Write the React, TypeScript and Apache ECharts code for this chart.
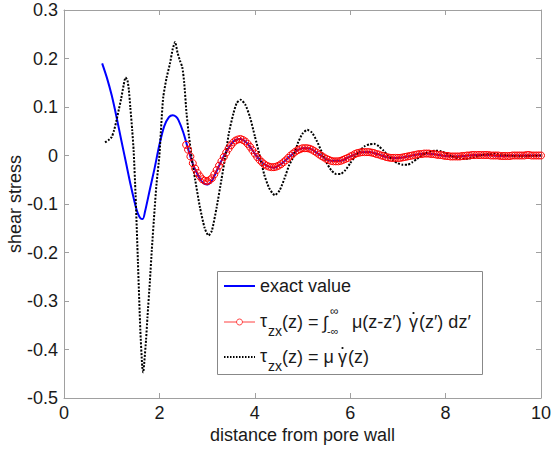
import React, { useEffect, useRef } from "react";
import * as echarts from "echarts";

// x positions and values of the exact solution (blue)
const exactZ = [0.8, 0.9, 1.0, 1.1, 1.2, 1.3, 1.4, 1.5, 1.55, 1.6, 1.65, 1.7, 1.8, 1.9, 2.0, 2.1, 2.2, 2.28, 2.35, 2.4, 2.5, 2.6, 2.7, 2.8, 2.9, 3.0, 3.1, 3.2, 3.3, 3.4, 3.5, 3.6, 3.7, 3.8, 3.9, 4.0, 4.1, 4.2, 4.3, 4.4, 4.5, 4.6, 4.7, 4.8, 4.9, 5.0, 5.1, 5.2, 5.4, 5.6, 5.8, 6.0, 6.2, 6.4, 6.6, 6.8, 7.0, 7.2, 7.4, 7.6, 7.8, 8.0, 8.2, 8.4, 8.6, 8.8, 9.0, 9.2, 9.4, 9.6, 9.8, 10.0];
const exactTau = [0.19, 0.16, 0.124, 0.08, 0.032, -0.015, -0.062, -0.104, -0.12, -0.129, -0.131, -0.115, -0.07, -0.026, 0.022, 0.06, 0.079, 0.083, 0.08, 0.073, 0.048, 0.014, -0.017, -0.039, -0.055, -0.06, -0.052, -0.032, -0.011, 0.007, 0.023, 0.032, 0.034, 0.029, 0.018, 0.004, -0.009, -0.018, -0.023, -0.025, -0.021, -0.014, -0.005, 0.004, 0.011, 0.015, 0.015, 0.012, -0.001, -0.011, -0.011, -0.002, 0.006, 0.007, 0.002, -0.004, -0.005, -0.002, 0.002, 0.004, 0.002, -0.001, -0.002, -0.001, 0.001, 0.001, 0.0, -0.001, 0.0, 0.0, 0.0, 0.0];

// convolution form (red circles)
const convZ = [2.56, 2.6, 2.65, 2.7, 2.75, 2.8, 2.85, 2.9, 2.95, 3.0, 3.05, 3.1, 3.15, 3.2, 3.25, 3.3, 3.35, 3.4, 3.45, 3.5, 3.55, 3.6, 3.65, 3.7, 3.75, 3.8, 3.85, 3.9, 3.95, 4.0, 4.05, 4.1, 4.15, 4.2, 4.25, 4.3, 4.35, 4.4, 4.45, 4.5, 4.55, 4.6, 4.65, 4.7, 4.75, 4.8, 4.85, 4.9, 4.95, 5.0, 5.05, 5.1, 5.15, 5.2, 5.25, 5.3, 5.35, 5.4, 5.45, 5.5, 5.55, 5.6, 5.65, 5.7, 5.75, 5.8, 5.85, 5.9, 5.95, 6.0, 6.05, 6.1, 6.15, 6.2, 6.25, 6.3, 6.35, 6.4, 6.45, 6.5, 6.55, 6.6, 6.65, 6.7, 6.75, 6.8, 6.85, 6.9, 6.95, 7.0, 7.05, 7.1, 7.15, 7.2, 7.25, 7.3, 7.35, 7.4, 7.45, 7.5, 7.55, 7.6, 7.65, 7.7, 7.75, 7.8, 7.85, 7.9, 7.95, 8.0, 8.05, 8.1, 8.15, 8.2, 8.25, 8.3, 8.35, 8.4, 8.45, 8.5, 8.55, 8.6, 8.65, 8.7, 8.75, 8.8, 8.85, 8.9, 8.95, 9.0, 9.05, 9.1, 9.15, 9.2, 9.25, 9.3, 9.35, 9.4, 9.45, 9.5, 9.55, 9.6, 9.65, 9.7, 9.75, 9.8, 9.85, 9.9, 9.95, 10.0];
const convTau = [0.022, 0.012, -0.002, -0.016, -0.027, -0.036, -0.043, -0.049, -0.052, -0.053, -0.051, -0.047, -0.039, -0.03, -0.021, -0.012, -0.003, 0.006, 0.014, 0.021, 0.027, 0.031, 0.033, 0.034, 0.032, 0.029, 0.024, 0.018, 0.011, 0.004, -0.003, -0.009, -0.014, -0.018, -0.021, -0.023, -0.024, -0.024, -0.023, -0.021, -0.018, -0.014, -0.01, -0.005, 0.0, 0.004, 0.008, 0.011, 0.013, 0.015, 0.015, 0.015, 0.014, 0.012, 0.009, 0.006, 0.002, -0.001, -0.004, -0.007, -0.009, -0.011, -0.012, -0.012, -0.012, -0.011, -0.009, -0.007, -0.005, -0.002, 0.0, 0.003, 0.005, 0.006, 0.007, 0.007, 0.007, 0.007, 0.006, 0.005, 0.003, 0.002, 0.0, -0.001, -0.003, -0.004, -0.005, -0.005, -0.005, -0.005, -0.005, -0.004, -0.003, -0.002, -0.001, 0.0, 0.001, 0.002, 0.003, 0.003, 0.004, 0.004, 0.004, 0.003, 0.003, 0.002, 0.001, 0.001, 0.0, -0.001, -0.001, -0.002, -0.002, -0.002, -0.002, -0.002, -0.001, -0.001, 0.0, 0.0, 0.001, 0.001, 0.001, 0.001, 0.001, 0.001, 0.001, 0.001, 0.0, 0.0, 0.0, 0.0, -0.001, -0.001, -0.001, -0.001, -0.001, 0.0, 0.0, 0.0, 0.0, 0.0, 0.0, 0.001, 0.001, 0.0, 0.0, 0.0, 0.0, 0.0];

// local form (black dotted)
const localZ = [0.86, 0.95, 1.0, 1.05, 1.1, 1.15, 1.2, 1.25, 1.29, 1.33, 1.36, 1.39, 1.43, 1.46, 1.5, 1.55, 1.6, 1.64, 1.66, 1.68, 1.72, 1.75, 1.8, 1.84, 1.9, 1.94, 2.0, 2.04, 2.08, 2.15, 2.22, 2.28, 2.33, 2.38, 2.43, 2.48, 2.52, 2.57, 2.62, 2.68, 2.75, 2.85, 2.95, 3.03, 3.1, 3.2, 3.3, 3.38, 3.46, 3.55, 3.62, 3.7, 3.8, 3.9, 4.0, 4.11, 4.2, 4.3, 4.42, 4.52, 4.62, 4.72, 4.81, 4.9, 5.0, 5.1, 5.2, 5.3, 5.4, 5.5, 5.6, 5.7, 5.8, 5.9, 6.0, 6.1, 6.2, 6.3, 6.4, 6.5, 6.6, 6.7, 6.8, 6.9, 7.0, 7.1, 7.2, 7.3, 7.4, 7.5, 7.6, 7.7, 7.8, 7.9, 8.0, 8.1, 8.2, 8.3, 8.4, 8.5, 8.6, 8.7, 8.8, 8.9, 9.0, 9.1, 9.2, 9.4, 9.6, 9.8, 10.0];
const localTau = [0.027, 0.033, 0.038, 0.052, 0.072, 0.095, 0.118, 0.145, 0.161, 0.155, 0.135, 0.1, 0.052, 0.01, -0.08, -0.22, -0.36, -0.435, -0.447, -0.43, -0.38, -0.333, -0.26, -0.196, -0.11, -0.058, 0.0, 0.065, 0.12, 0.16, 0.189, 0.22, 0.234, 0.212, 0.196, 0.182, 0.15, 0.086, 0.04, -0.007, -0.05, -0.107, -0.15, -0.165, -0.155, -0.107, -0.05, -0.003, 0.048, 0.086, 0.108, 0.115, 0.105, 0.079, 0.04, -0.003, -0.04, -0.067, -0.082, -0.072, -0.048, -0.02, -0.003, 0.025, 0.045, 0.053, 0.047, 0.03, 0.008, -0.014, -0.03, -0.038, -0.038, -0.03, -0.016, -0.002, 0.01, 0.019, 0.023, 0.024, 0.019, 0.01, -0.001, -0.01, -0.016, -0.019, -0.019, -0.014, -0.007, 0.0, 0.006, 0.009, 0.01, 0.009, 0.005, 0.0, -0.004, -0.006, -0.007, -0.006, -0.004, -0.001, 0.002, 0.003, 0.004, 0.003, 0.002, -0.001, -0.002, -0.001, 0.0];

const xTicks = { min: 0, max: 10, interval: 2 };
const yTicks = { min: -0.5, max: 0.3, interval: 0.1 };

const zip = (a: number[], b: number[]) => a.map((v, i) => [v, b[i]]);

const FONT = '"Liberation Sans", Arial, sans-serif';
const TEXT = "#1a1a1a";
const AXIS = "#a0a0a0";

export default function App() {
  const ref = useRef<HTMLDivElement>(null);
  useEffect(() => {
    if (!ref.current) return;
    const chart = echarts.init(ref.current, null, { renderer: "svg" });
    const axisCommon = {
      axisLine: { show: true, onZero: false, lineStyle: { color: AXIS, width: 1 } },
      axisTick: { show: true, inside: true, length: 5, lineStyle: { color: AXIS } },
      splitLine: { show: false },
    };
    const t = (x: number, y: number, text: string, size = 18, extra: any = {}) => ({
      type: "text",
      x,
      y,
      style: { text, font: `${size}px ${FONT}`, fill: TEXT, textVerticalAlign: "middle", ...extra },
      z: 100,
    });
    const dot = (cx: number, cy: number) => ({
      type: "circle",
      shape: { cx, cy, r: 1.1 },
      style: { fill: TEXT },
      z: 100,
    });
    chart.setOption({
      animation: false,
      backgroundColor: "#fff",
      textStyle: { fontFamily: FONT },
      grid: { left: 64, right: 10, top: 10, bottom: 54, outerBoundsMode: "none", containLabel: false },
      xAxis: [
        {
          type: "value",
          ...xTicks,
          ...axisCommon,
          name: "distance from pore wall",
          nameLocation: "middle",
          nameGap: 28,
          nameMoveOverlap: false,
          nameTextStyle: { fontSize: 18, color: TEXT, fontFamily: FONT },
          axisLabel: { fontSize: 18, color: TEXT, margin: 6, fontFamily: FONT },
        },
        { type: "value", position: "top", ...xTicks, ...axisCommon, axisLabel: { show: false } },
      ],
      yAxis: [
        {
          type: "value",
          ...yTicks,
          ...axisCommon,
          name: "shear stress",
          nameLocation: "middle",
          nameGap: 40,
          nameMoveOverlap: false,
          nameTextStyle: { fontSize: 18, color: TEXT, fontFamily: FONT },
          axisLabel: { fontSize: 18, color: TEXT, margin: 6, fontFamily: FONT },
        },
        { type: "value", position: "right", ...yTicks, ...axisCommon, axisLabel: { show: false } },
      ],
      series: [
        {
          name: "exact value",
          type: "line",
          data: zip(exactZ, exactTau),
          showSymbol: false,
          smooth: 0.3,
          lineStyle: { color: "#0000ff", width: 2 },
          itemStyle: { color: "#0000ff" },
        },
        {
          name: "convolution",
          type: "line",
          data: zip(convZ, convTau),
          symbol: "circle",
          symbolSize: 7,
          smooth: 0.3,
          lineStyle: { color: "#ff0000", width: 1 },
          itemStyle: { color: "rgba(255,255,255,0)", borderColor: "#ff0000", borderWidth: 1 },
        },
        {
          name: "local",
          type: "line",
          data: zip(localZ, localTau),
          showSymbol: false,
          smooth: 0.2,
          lineStyle: { color: "#000", width: 2, type: [2, 1.5] },
        },
      ],
      graphic: [
        { type: "rect", shape: { x: 217.5, y: 271.5, width: 265, height: 103 }, style: { fill: "#fff", stroke: "#888", lineWidth: 1 }, z: 99 },
        { type: "line", shape: { x1: 224, y1: 286, x2: 255, y2: 286 }, style: { stroke: "#0000ff", lineWidth: 2 }, z: 100 },
        t(260, 286, "exact value"),
        { type: "line", shape: { x1: 224, y1: 322, x2: 255, y2: 322 }, style: { stroke: "#ff4040", lineWidth: 1 }, z: 100 },
        { type: "circle", shape: { cx: 239.5, cy: 322, r: 3 }, style: { fill: "#fff", stroke: "#ff4040", lineWidth: 1 }, z: 101 },
        t(260, 321, "τ"),
        t(268, 331, "zx", 14),
        t(282, 322, "(z) = "),
        t(323, 323, "∫", 18),
        t(330, 311, "∞", 12),
        t(327, 331, "-∞", 11),
        t(352, 322, "μ(z-z′)"),
        t(409, 322, "γ"),
        dot(413.5, 313),
        t(419, 322, "(z′) dz′"),
        { type: "line", shape: { x1: 224, y1: 357, x2: 255, y2: 357 }, style: { stroke: "#000", lineWidth: 2, lineDash: [1.5, 1.5] }, z: 100 },
        t(260, 356, "τ"),
        t(268, 366, "zx", 14),
        t(282, 357, "(z) = μ"),
        t(338, 357, "γ"),
        dot(342.5, 348),
        t(348, 357, "(z)"),
      ],
    });
    return () => chart.dispose();
  }, []);
  return <div ref={ref} style={{ position: "fixed", left: 0, top: 0, width: 551, height: 452 }} />;
}
